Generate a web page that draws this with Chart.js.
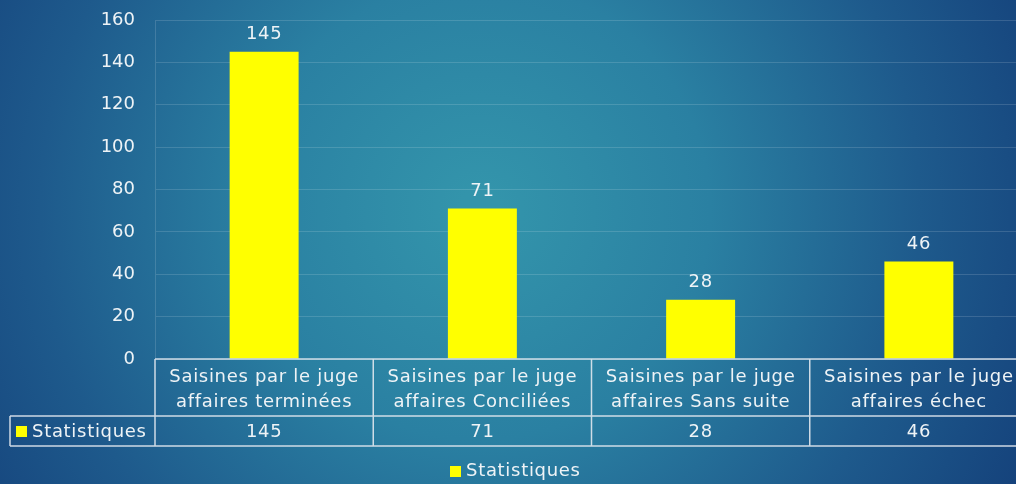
<!DOCTYPE html>
<html>
<head>
<meta charset="utf-8">
<script src="https://cdn.jsdelivr.net/npm/chart.js@4/dist/chart.umd.min.js"></script>
<style>
html,body{margin:0;padding:0;overflow:hidden;background:#1d5a8c;}
#wrap{width:1016px;height:484px;overflow:hidden;position:relative;}
canvas{display:block;}
</style>
</head>
<body>
<div id="wrap"><canvas id="c" width="1028" height="484"></canvas></div>
<script>
const categories = [
  ["Saisines par le juge", "affaires terminées"],
  ["Saisines par le juge", "affaires Conciliées"],
  ["Saisines par le juge", "affaires Sans suite"],
  ["Saisines par le juge", "affaires échec"]
];
const seriesName = "Statistiques";
const values = [145, 71, 28, 46];
const yTicks = [0, 20, 40, 60, 80, 100, 120, 140, 160];

const FONT = "'DejaVu Sans', sans-serif";
const TXT = "#eef3f6";
const LINE = "rgba(225,232,238,0.9)";

const tablePlugin = {
  id: 'tablePlugin',
  beforeDraw(chart) {
    const ctx = chart.ctx;
    const W = chart.width, H = chart.height;
    ctx.save();
    const g = ctx.createRadialGradient(480, 210, 20, 480, 210, 620);
    g.addColorStop(0, '#3394ab');
    g.addColorStop(0.35, '#2a80a2');
    g.addColorStop(0.7, '#1e5a8c');
    g.addColorStop(1, '#14407a');
    ctx.fillStyle = g;
    ctx.fillRect(0, 0, W, H);
    ctx.restore();
  },
  afterDraw(chart) {
    const ctx = chart.ctx;
    const xs = chart.scales.x;
    const area = chart.chartArea;
    const meta = chart.getDatasetMeta(0);
    ctx.save();
    ctx.letterSpacing = '0.7px';
    ctx.font = "18px " + FONT;
    ctx.fillStyle = TXT;
    ctx.textAlign = 'center';
    ctx.textBaseline = 'middle';
    meta.data.forEach((bar, i) => {
      ctx.fillText(String(values[i]), bar.x, bar.y - 17);
    });
    const top = area.bottom;
    const rowMid = 416;
    const bottom = 446;
    const left = 10;
    const n = categories.length;
    const cw = (area.right - area.left) / n;
    ctx.strokeStyle = LINE;
    ctx.lineWidth = 1.5;
    ctx.beginPath();
    ctx.moveTo(area.left, top); ctx.lineTo(chart.width, top);
    ctx.moveTo(left, rowMid); ctx.lineTo(chart.width, rowMid);
    ctx.moveTo(left, bottom); ctx.lineTo(chart.width, bottom);
    ctx.moveTo(left, rowMid); ctx.lineTo(left, bottom);
    for (let i = 0; i < n; i++) {
      const x = area.left + i * cw;
      ctx.moveTo(x, top); ctx.lineTo(x, bottom);
    }
    ctx.stroke();
    ctx.fillStyle = TXT;
    categories.forEach((lines, i) => {
      const cx = xs.getPixelForValue(i);
      ctx.fillText(lines[0], cx, 377);
      ctx.fillText(lines[1], cx, 402);
      ctx.fillText(String(values[i]), cx, 432);
    });
    ctx.fillStyle = '#ffff00';
    ctx.fillRect(16, 426, 11, 11);
    ctx.fillStyle = TXT;
    ctx.textAlign = 'left';
    ctx.fillText(seriesName, 32, 432);
    ctx.fillStyle = '#ffff00';
    ctx.fillRect(450, 466, 11, 11);
    ctx.fillStyle = TXT;
    ctx.fillText(seriesName, 466, 471);
    ctx.restore();
  }
};

new Chart(document.getElementById('c'), {
  type: 'bar',
  data: {
    labels: categories,
    datasets: [{
      label: seriesName,
      data: values,
      backgroundColor: '#ffff00',
      borderWidth: 0,
      barPercentage: 0.316,
      categoryPercentage: 1
    }]
  },
  options: {
    responsive: false,
    devicePixelRatio: 1,
    animation: false,
    events: [],
    layout: { padding: { left: 0, top: 20, right: 0, bottom: 125 } },
    plugins: {
      legend: { display: false },
      tooltip: { enabled: false }
    },
    scales: {
      x: { display: false },
      y: {
        min: 0, max: 160,
        afterBuildTicks: s => { s.ticks = yTicks.map(v => ({ value: v })); },
        afterFit: s => { s.width = 155; s.paddingTop = 0; s.paddingBottom = 0; },
        ticks: { color: TXT, font: { family: FONT, size: 18 }, padding: 20 },
        grid: { color: 'rgba(255,255,255,0.14)', drawTicks: false },
        border: { color: 'rgba(255,255,255,0.14)' }
      }
    }
  },
  plugins: [tablePlugin]
});
</script>
</body>
</html>
